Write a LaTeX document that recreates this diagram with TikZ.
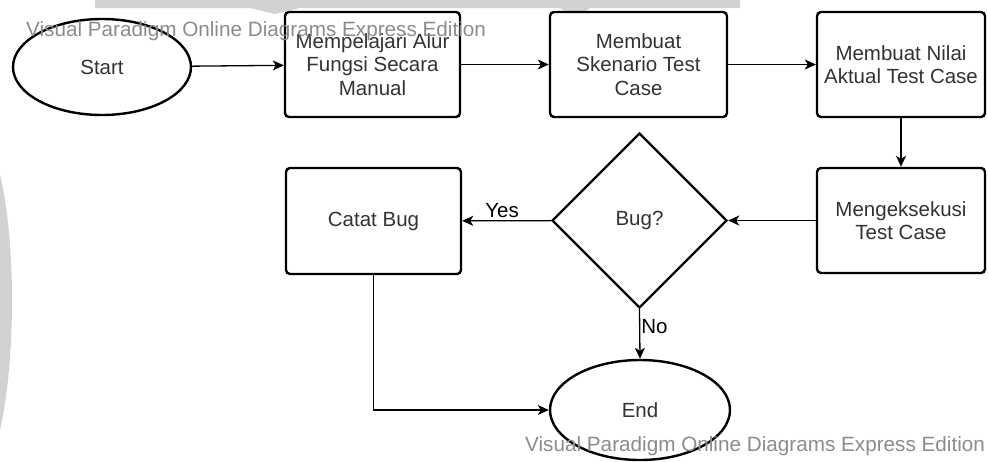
\documentclass[tikz,border=0pt]{standalone}
\usepackage{fontspec}
\setmainfont{Liberation Sans}
\usetikzlibrary{shapes.geometric,arrows.meta}
\definecolor{txt}{HTML}{333333}
\definecolor{wm}{HTML}{8C8C8C}
\definecolor{wmbg}{HTML}{D2D2D2}
\tikzset{
  box/.style={draw=black, line width=2.4pt, rounded corners=4pt, align=center,
    inner sep=0pt, text=txt, font=\fontsize{20.5}{23.5}\selectfont, fill=white},
  term/.style={draw=black, line width=2.4pt, ellipse, inner sep=0pt, text=txt,
    font=\fontsize{20.5}{23.5}\selectfont, fill=white},
  dec/.style={draw=black, line width=2.4pt, diamond, aspect=1, inner sep=0pt,
    text=txt, font=\fontsize{20.5}{23.5}\selectfont, fill=white},
  conn/.style={draw=black, line width=1.3pt, -{Stealth[length=11pt,width=10pt,inset=3pt]}},
  lbl/.style={font=\fontsize{20.5}{23.5}\selectfont, text=black, inner sep=0pt},
  wmark/.style={font=\fontsize{20.7}{24}\selectfont, text=wm, inner sep=0pt, anchor=base west}
}
\begin{document}
\begin{tikzpicture}[x=1pt,y=-1pt]
\useasboundingbox (0,0) rectangle (988,461);
% faint background watermark shapes
\fill[wmbg] (95,0) -- (740,0) -- (740,8) -- (590,8) -- (575,18) -- (560,8) -- (300,8) -- (275,14) -- (250,8) -- (95,8) -- cycle;
\fill[wmbg] (0,175) .. controls (16,240) and (16,360) .. (0,430) -- cycle;

\node[term, minimum width=178pt, minimum height=96pt] (start) at (102,67) {Start};
\node[box, minimum width=175pt, minimum height=105pt] (b1) at (372.5,64.5) {Mempelajari Alur\\Fungsi Secara\\Manual};
\node[box, minimum width=177pt, minimum height=105pt] (b2) at (638.5,64.5) {Membuat\\Skenario Test\\Case};
\node[box, minimum width=168pt, minimum height=105pt] (b3) at (901,64.5) {Membuat Nilai\\Aktual Test Case};
\node[box, minimum width=168pt, minimum height=105pt] (b4) at (901,220.5) {Mengeksekusi\\Test Case};
\node[dec, minimum width=175pt, minimum height=175pt] (d) at (639.5,220.5) {Bug?};
\node[box, minimum width=175pt, minimum height=106pt] (cb) at (373.5,221) {Catat Bug};
\node[term, minimum width=180pt, minimum height=100pt] (end) at (640,410) {End};

\draw[conn] (start) -- (b1);
\draw[conn] (b1) -- (b2);
\draw[conn] (b2) -- (b3);
\draw[conn] (b3) -- (b4);
\draw[conn] (b4) -- (d);
\draw[conn] (d) -- node[lbl, above, pos=0.55, yshift=2pt] (yes) {Yes} (cb);
\draw[conn] (d.south) -- node[lbl, right, pos=0.35, xshift=1pt] (no) {No} (end.north);
\draw[conn] (cb.south) |- (end.west);

\node[wmark] (wm1) at (26,36) {Visual Paradigm Online Diagrams Express Edition};
\node[wmark] (wm2) at (525,451) {Visual Paradigm Online Diagrams Express Edition};
\end{tikzpicture}
\end{document}
